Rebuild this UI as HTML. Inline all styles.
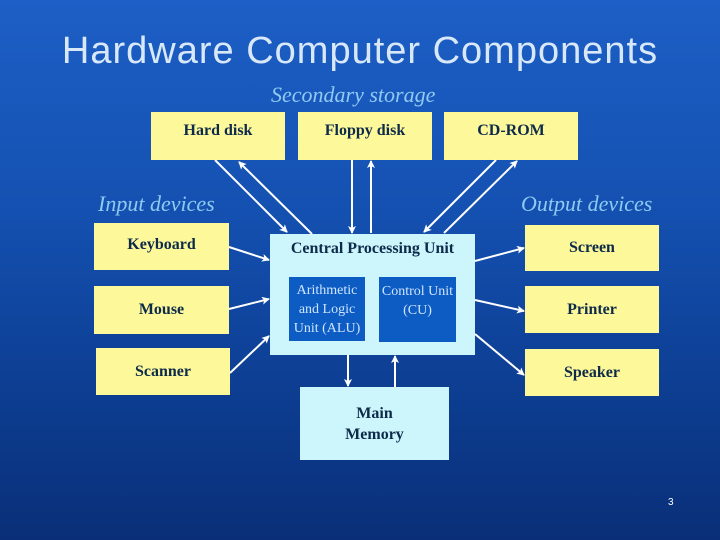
<!DOCTYPE html>
<html><head><style>
body{margin:0;width:720px;height:540px;overflow:hidden;background:linear-gradient(180deg,#1d5fc6 0%,#1450b0 40%,#0c3c8f 75%,#0a2f78 100%);font-family:"Liberation Serif",serif;position:relative}
.t{position:absolute;color:#d8e8f8;font-family:"Liberation Sans",sans-serif;font-size:38px;left:0;width:720px;text-align:center;top:30px;letter-spacing:1px}
.l{position:absolute;color:#8fcaf2;font-style:italic;font-size:22px}
.y{position:absolute;background:#fdf99a;color:#0d2a4a;font-weight:bold;font-size:16px;display:flex;align-items:center;justify-content:center;text-align:center}
.c{position:absolute;background:#ccf6fb}
.b{position:absolute;background:#0d5cc4;color:#cfe6ff;font-size:14px;text-align:center;line-height:19px}
svg{position:absolute;left:0;top:0}
</style></head><body>
<div class="t">Hardware Computer Components</div>
<div class="l" style="left:271px;top:82px">Secondary storage</div>
<div class="l" style="left:98px;top:191px">Input devices</div>
<div class="l" style="left:521px;top:191px">Output devices</div>
<div class="y" style="left:151px;top:112px;width:134px;height:48px;padding-bottom:10px;box-sizing:border-box">Hard disk</div>
<div class="y" style="left:298px;top:112px;width:134px;height:48px;padding-bottom:10px;box-sizing:border-box">Floppy disk</div>
<div class="y" style="left:444px;top:112px;width:134px;height:48px;padding-bottom:10px;box-sizing:border-box">CD-ROM</div>
<div class="y" style="left:94px;top:223px;width:135px;height:47px;padding-bottom:messages;padding-bottom:3px;box-sizing:border-box">Keyboard</div>
<div class="y" style="left:94px;top:286px;width:135px;height:48px">Mouse</div>
<div class="y" style="left:96px;top:348px;width:134px;height:47px">Scanner</div>
<div class="y" style="left:525px;top:225px;width:134px;height:46px">Screen</div>
<div class="y" style="left:525px;top:286px;width:134px;height:47px">Printer</div>
<div class="y" style="left:525px;top:349px;width:134px;height:47px">Speaker</div>
<div class="c" style="left:270px;top:234px;width:205px;height:121px"></div>
<div style="position:absolute;left:270px;top:240px;width:205px;text-align:center;color:#0d2a4a;font-weight:bold;font-size:16px">Central Processing Unit</div>
<div class="b" style="left:289px;top:277px;width:76px;height:64px;padding-top:4px;box-sizing:border-box">Arithmetic and Logic Unit (ALU)</div>
<div class="b" style="left:379px;top:277px;width:77px;height:65px;padding-top:5px;box-sizing:border-box">Control Unit (CU)</div>
<div class="c" style="left:300px;top:387px;width:149px;height:73px;color:#0d2a4a;font-weight:bold;font-size:16px;text-align:center;line-height:21px;box-sizing:border-box;padding-top:16px">Main<br>Memory</div>
<div style="position:absolute;left:668px;top:497px;color:#fff;font-family:'Liberation Sans',sans-serif;font-size:10px">3</div>
<svg width="720" height="540"><defs><marker id="a" markerWidth="8" markerHeight="8" refX="7" refY="4" orient="auto" markerUnits="userSpaceOnUse"><path d="M0,0L8,4L0,8L2,4z" fill="#fff"/></marker></defs>
<g stroke="#fff" stroke-width="2" marker-end="url(#a)" fill="none">
<line x1="215" y1="160" x2="287" y2="232"/><line x1="312" y1="234" x2="239" y2="162"/>
<line x1="352" y1="160" x2="352" y2="233"/><line x1="371" y1="233" x2="371" y2="161"/>
<line x1="496" y1="160" x2="424" y2="232"/><line x1="444" y1="233" x2="517" y2="161"/>
<line x1="229" y1="247" x2="269" y2="260"/><line x1="229" y1="309" x2="269" y2="299"/>
<line x1="230" y1="373" x2="269" y2="336"/>
<line x1="475" y1="261" x2="524" y2="248"/><line x1="475" y1="300" x2="524" y2="311"/>
<line x1="475" y1="334" x2="524" y2="375"/>
<line x1="348" y1="355" x2="348" y2="386"/><line x1="395" y1="387" x2="395" y2="356"/>
</g></svg>
</body></html>
